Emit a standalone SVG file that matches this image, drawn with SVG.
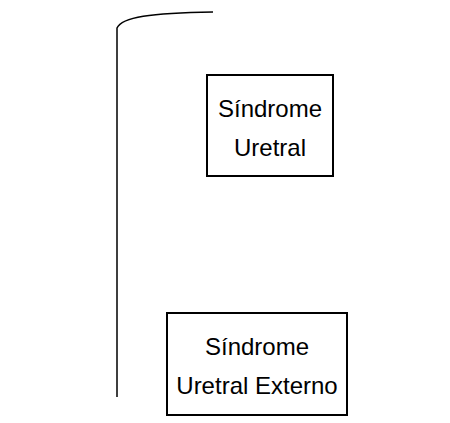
<svg xmlns="http://www.w3.org/2000/svg" width="450" height="423" viewBox="0 0 450 423">
  <style>
    .box { fill: #ffffff; stroke: #000000; stroke-width: 2; }
    .label { font-family: "Liberation Sans", Arial, sans-serif; font-size: 24px; fill: #000000; text-anchor: middle; }
    .bracket { fill: none; stroke: #000000; stroke-width: 1.5; }
  </style>
  <rect width="450" height="423" fill="#ffffff"/>
  <g id="connectors">
    <path class="bracket" d="M 213 12 C 150 13 122 17 117 28 L 117 397"/>
  </g>
  <g id="node-sindrome-uretral">
    <rect class="box" x="207" y="75" width="126" height="101"/>
    <text class="label" x="270" y="117">Síndrome</text>
    <text class="label" x="270" y="156">Uretral</text>
  </g>
  <g id="node-sindrome-uretral-externo">
    <rect class="box" x="167" y="313" width="180" height="102"/>
    <text class="label" x="257" y="355">Síndrome</text>
    <text class="label" x="257" y="394">Uretral Externo</text>
  </g>
</svg>
